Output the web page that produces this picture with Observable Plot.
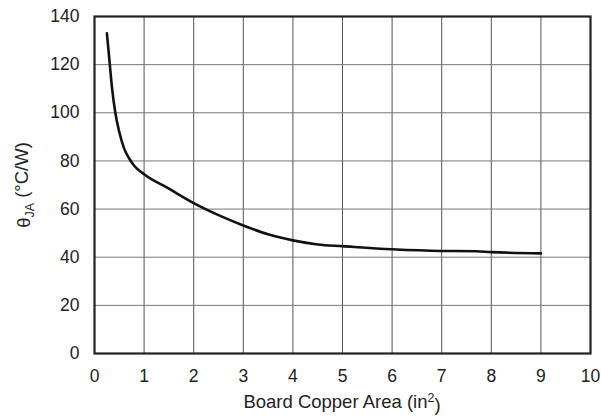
<!DOCTYPE html>
<html>
<head>
<meta charset="utf-8">
<script src="https://cdn.jsdelivr.net/npm/d3@7"></script>
<script src="https://cdn.jsdelivr.net/npm/@observablehq/plot@0.6"></script>
<style>
  html, body { margin: 0; padding: 0; background: #fff; }
  svg { font-family: "Liberation Sans", Arial, sans-serif; }
</style>
</head>
<body>
<div id="chart"></div>
<script>
const area = [0.25, 0.30, 0.35, 0.42, 0.5, 0.6, 0.7, 0.8, 1.0, 1.5, 2.0, 2.5, 3.0, 3.5, 4.0, 4.5, 5, 6, 7, 7.7, 8, 9];
const thetaJA = [133, 122, 111, 100, 92, 85, 81, 78, 74.5, 68.5, 62.5, 57.5, 53.2, 49.5, 47, 45.3, 44.6, 43.3, 42.6, 42.5, 42.1, 41.6];
const xTicks = [0, 1, 2, 3, 4, 5, 6, 7, 8, 9, 10];
const yTicks = [0, 20, 40, 60, 80, 100, 120, 140];

const data = area.map((a, i) => ({x: a, y: thetaJA[i]}));

const W = 601, H = 416;
const plot = Plot.plot({
  width: W,
  height: H,
  marginLeft: 94,
  marginRight: 11,
  marginTop: 16,
  marginBottom: 63,
  style: {color: "#222", fontFamily: "'Liberation Sans', Arial, sans-serif"},
  x: {domain: [0, 10]},
  y: {domain: [0, 140]},
  marks: [
    Plot.gridX(xTicks, {stroke: "#555", strokeOpacity: 1, strokeWidth: 1}),
    Plot.gridY(yTicks, {stroke: "#777", strokeOpacity: 1, strokeWidth: 1}),
    Plot.axisX(xTicks, {tickSize: 0, tickPadding: 16, fontSize: 17.5, label: null, fill: "#222"}),
    Plot.axisY(yTicks, {tickSize: 0, tickPadding: 15, fontSize: 17.5, label: null, fill: "#222"}),
    Plot.frame({stroke: "#222", strokeWidth: 2.2}),
    Plot.line(data, {x: "x", y: "y", stroke: "#111", strokeWidth: 2.6, curve: "monotone-x"})
  ]
});
document.getElementById("chart").appendChild(plot);

const svg = d3.select(plot);
// x-axis title
const xt = svg.append("text")
  .attr("x", 342).attr("y", 408)
  .attr("text-anchor", "middle")
  .attr("fill", "#222")
  .style("font-size", "18.5px");
xt.append("tspan").text("Board Copper Area (in");
xt.append("tspan").attr("dy", "-0.45em").style("font-size", "12.5px").text("2");
xt.append("tspan").attr("dy", "0.45em").text(")");

// y-axis title
const yt = svg.append("text")
  .attr("transform", "translate(30,185) rotate(-90)")
  .attr("text-anchor", "middle")
  .attr("fill", "#222")
  .style("font-size", "18.5px");
yt.append("tspan").text("θ");
yt.append("tspan").attr("dy", "0.3em").style("font-size", "12.5px").text("JA");
yt.append("tspan").attr("dy", "-0.3em").text(" (°C/W)");
</script>
</body>
</html>
